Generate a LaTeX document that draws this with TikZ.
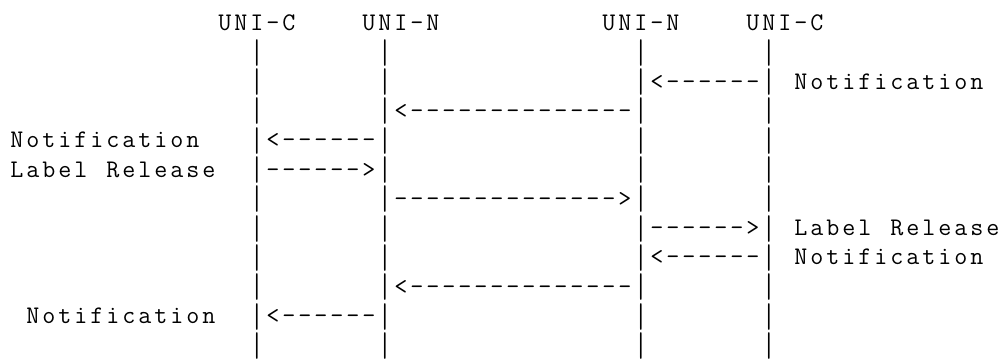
\documentclass[tikz,border=0pt]{standalone}
\usepackage{graphicx}
\makeatletter
\def\cellrow#1{\cellrow@i#1\relax}
\def\cellrow@i#1{\ifx#1\relax\else\makebox[12pt][c]{#1}\expandafter\cellrow@i\fi}
\makeatother
% tall bar glyph, as in the reference's monospace font
\newcommand\tallbar{\raisebox{-4.8pt}{\resizebox*{\width}{20pt}{\raisebox{\depth}{|}}}}
\begin{document}
\begin{tikzpicture}[x=0.75pt,y=-0.75pt,
  txt/.style={anchor=base west,inner sep=0pt,outer sep=0pt,
    font=\ttfamily\fontsize{19pt}{22pt}\selectfont,text=black}]
\useasboundingbox[fill=white] (0,0) rectangle (1006,358);
\newcommand\tx[4]{\node[txt] (#1) at ({9+16*#2},{30.5+29.3*#3}) {\cellrow{#4}};}
% headers
\tx{hUCl}{13}{0}{UNI-C}
\tx{hUNl}{22}{0}{UNI-N}
\tx{hUNr}{37}{0}{UNI-N}
\tx{hUCr}{46}{0}{UNI-C}
% lifelines
\foreach \r in {1,...,11}{
  \foreach \c/\n in {15/a,23/b,39/c,47/d}{
    \node[txt] (bar\n\r) at ({9+16*\c},{30.5+29.3*\r}) {\makebox[12pt][c]{\tallbar}};
  }
}
% messages
\tx{m2}{40}{2}{<------}
\tx{l2}{49}{2}{Notification}
\tx{m3}{24}{3}{<--------------}
\tx{l4}{0}{4}{Notification}
\tx{m4}{16}{4}{<------}
\tx{l5}{0}{5}{Label~Release}
\tx{m5}{16}{5}{------>}
\tx{m6}{24}{6}{-------------->}
\tx{m7}{40}{7}{------>}
\tx{l7}{49}{7}{Label~Release}
\tx{m8}{40}{8}{<------}
\tx{l8}{49}{8}{Notification}
\tx{m9}{24}{9}{<--------------}
\tx{l10}{1}{10}{Notification}
\tx{m10}{16}{10}{<------}
\end{tikzpicture}
\end{document}
